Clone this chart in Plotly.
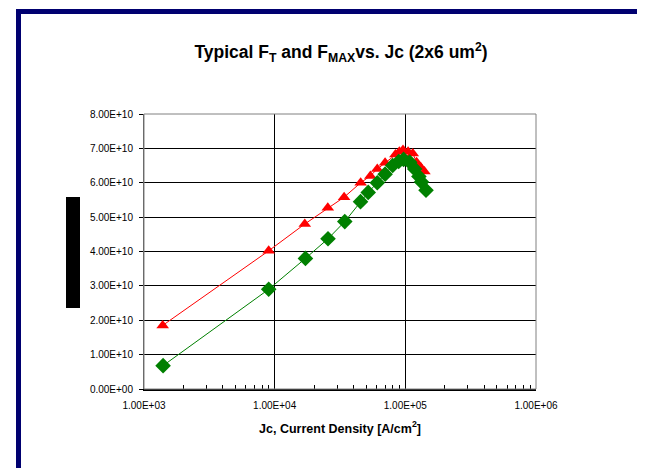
import plotly.graph_objects as go

# --- data ---
fmax_jc = [1.39e3, 9.0e3, 1.7e4, 2.55e4, 3.4e4, 4.55e4, 5.4e4, 6.1e4, 7.0e4,
           8.4e4, 9.0e4, 9.6e4, 1.05e5, 1.14e5, 1.22e5, 1.31e5, 1.40e5]
fmax_val = [1.85e10, 4.02e10, 4.80e10, 5.27e10, 5.58e10, 6.00e10, 6.20e10, 6.40e10, 6.58e10,
            6.82e10, 6.90e10, 6.95e10, 6.90e10, 6.85e10, 6.60e10, 6.45e10, 6.33e10]

ft_jc = [1.40e3, 9.0e3, 1.72e4, 2.56e4, 3.44e4, 4.54e4, 5.2e4, 6.1e4, 7.0e4,
         8.0e4, 8.9e4, 9.7e4, 1.08e5, 1.18e5, 1.27e5, 1.33e5, 1.44e5]
ft_val = [0.68e10, 2.90e10, 3.80e10, 4.37e10, 4.87e10, 5.45e10, 5.72e10, 6.00e10, 6.25e10,
          6.50e10, 6.62e10, 6.68e10, 6.60e10, 6.40e10, 6.18e10, 6.02e10, 5.78e10]

x_tickvals = [1e3, 1e4, 1e5, 1e6]
x_ticktext = ["1.00E+03", "1.00E+04", "1.00E+05", "1.00E+06"]
y_tickvals = [i * 1e10 for i in range(9)]
y_ticktext = ["0.00E+00", "1.00E+10", "2.00E+10", "3.00E+10", "4.00E+10",
              "5.00E+10", "6.00E+10", "7.00E+10", "8.00E+10"]

OFF = 8                      # page body margin
W, H = 645 - OFF, 468 - OFF  # figure size
L, R, T, B = 144, 536, 114, 389   # plot area in screen pixels


def px(xp):
    return (xp - L) / (R - L)


def py(yp):
    return (B - yp) / (B - T)


fig = go.Figure()
fig.add_trace(go.Scatter(
    x=fmax_jc, y=fmax_val, mode="lines+markers", name="FMAX",
    line=dict(color="#FF0000", width=1),
    marker=dict(symbol="triangle-up", size=11, color="#FF0000"),
))
fig.add_trace(go.Scatter(
    x=ft_jc, y=ft_val, mode="lines+markers", name="FT",
    line=dict(color="#008000", width=1),
    marker=dict(symbol="diamond", size=12, color="#008000"),
))

fig.update_layout(
    width=W, height=H,
    margin=dict(l=L - OFF, r=W - (R - OFF), t=T - OFF, b=H - (B - OFF)),
    paper_bgcolor="white", plot_bgcolor="white",
    showlegend=False,
    font=dict(family="Liberation Sans, Arial, sans-serif", color="black"),
    title=dict(
        text="<b>Typical F<sub>T</sub> and F<sub>MAX</sub>vs. Jc (2x6 um<sup>2</sup>)</b>",
        x=(341 - OFF) / W, xanchor="center",
        y=1 - (52 - OFF) / H, yanchor="middle",
        font=dict(family="Liberation Sans Narrow, Arial Narrow, Liberation Sans, Arial",
                  size=17.5, color="black"),
    ),
    xaxis=dict(
        type="log", range=[3, 6],
        tickvals=x_tickvals, ticktext=x_ticktext,
        ticks="inside", ticklen=4, tickcolor="black",
        tickfont=dict(size=10), ticklabelstandoff=6,
        showgrid=True, gridcolor="#000000", gridwidth=1,
        showline=True, linecolor="black", linewidth=1.5,
        zeroline=False,
        minor=dict(dtick="D1", ticks="inside", ticklen=4, tickcolor="black", showgrid=False),
        title=dict(text="<b>Jc, Current Density [A/cm<sup>2</sup>]</b>",
                   font=dict(size=12.5), standoff=14),
    ),
    yaxis=dict(
        range=[0, 8e10],
        tickvals=y_tickvals, ticktext=y_ticktext,
        ticks="outside", ticklen=4, tickcolor="black",
        tickfont=dict(size=10), ticklabelstandoff=4,
        showgrid=True, gridcolor="#000000", gridwidth=1,
        showline=True, linecolor="#555555", linewidth=1,
        zeroline=False,
    ),
    shapes=[
        # plot area border (top/right gray)
        dict(type="rect", xref="paper", yref="paper", x0=0, x1=1, y0=0, y1=1,
             line=dict(color="#808080", width=1), fillcolor="rgba(0,0,0,0)", layer="above"),
        # navy frame: top bar
        dict(type="rect", xref="paper", yref="paper",
             x0=px(16), x1=px(645 + 5), y0=py(14), y1=py(9),
             line=dict(width=0), fillcolor="#000070"),
        # navy frame: left bar
        dict(type="rect", xref="paper", yref="paper",
             x0=px(16), x1=px(21), y0=py(468 + 5), y1=py(9),
             line=dict(width=0), fillcolor="#000070"),
        # black block covering the y-axis title
        dict(type="rect", xref="paper", yref="paper",
             x0=px(66), x1=px(80), y0=py(308), y1=py(197),
             line=dict(width=0), fillcolor="black"),
    ],
)

fig.write_html("out.html")
